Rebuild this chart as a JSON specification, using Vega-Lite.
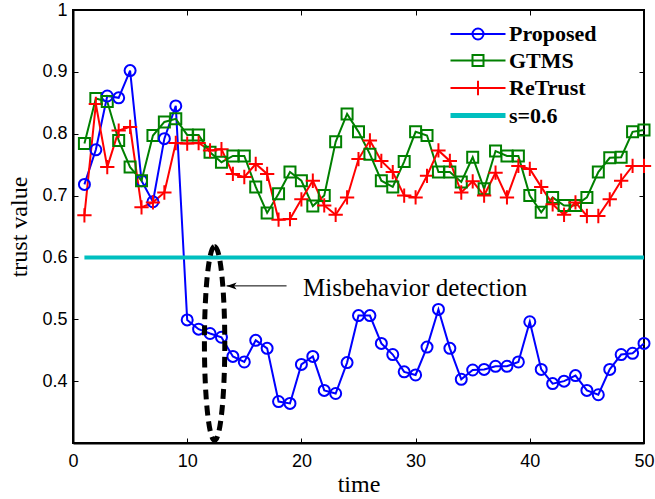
{
  "$schema": "https://vega.github.io/schema/vega-lite/v6.json",
  "width": 571,
  "height": 433,
  "autosize": {"type": "none"},
  "padding": {"left": 73, "top": 10, "right": 11, "bottom": 56},
  "background": "white",
  "config": {
    "view": {"stroke": "black", "strokeWidth": 2},
    "axis": {
      "domainColor": "black", "domainWidth": 2, "tickColor": "black", "tickWidth": 1, "tickSize": -5,
      "labelColor": "black", "labelFont": "Liberation Sans", "labelFontSize": 18,
      "titleFont": "Liberation Serif", "titleFontSize": 24, "titleFontWeight": "normal", "titleColor": "black",
      "grid": false
    },
    "axisTop": {"labels": false, "domain": false},
    "axisRight": {"labels": false, "domain": false}
  },
  "datasets": {
    "trust": [
      {"t":1,"Proposed":0.718,"GTMS":0.784,"ReTrust":0.668},
      {"t":2,"Proposed":0.774,"GTMS":0.857,"ReTrust":0.848},
      {"t":3,"Proposed":0.861,"GTMS":0.852,"ReTrust":0.746},
      {"t":4,"Proposed":0.858,"GTMS":0.789,"ReTrust":0.805},
      {"t":5,"Proposed":0.902,"GTMS":0.746,"ReTrust":0.811},
      {"t":6,"Proposed":0.724,"GTMS":0.724,"ReTrust":0.681},
      {"t":7,"Proposed":0.690,"GTMS":0.797,"ReTrust":0.689},
      {"t":8,"Proposed":0.792,"GTMS":0.819,"ReTrust":0.705},
      {"t":9,"Proposed":0.845,"GTMS":0.824,"ReTrust":0.785},
      {"t":10,"Proposed":0.499,"GTMS":0.798,"ReTrust":0.784},
      {"t":11,"Proposed":0.484,"GTMS":0.798,"ReTrust":0.785},
      {"t":12,"Proposed":0.477,"GTMS":0.770,"ReTrust":0.773},
      {"t":13,"Proposed":0.471,"GTMS":0.754,"ReTrust":0.775},
      {"t":14,"Proposed":0.440,"GTMS":0.764,"ReTrust":0.735},
      {"t":15,"Proposed":0.431,"GTMS":0.764,"ReTrust":0.730},
      {"t":16,"Proposed":0.466,"GTMS":0.714,"ReTrust":0.751},
      {"t":17,"Proposed":0.453,"GTMS":0.672,"ReTrust":0.735},
      {"t":18,"Proposed":0.367,"GTMS":0.703,"ReTrust":0.661},
      {"t":19,"Proposed":0.364,"GTMS":0.738,"ReTrust":0.662},
      {"t":20,"Proposed":0.427,"GTMS":0.724,"ReTrust":0.694},
      {"t":21,"Proposed":0.440,"GTMS":0.683,"ReTrust":0.724},
      {"t":22,"Proposed":0.385,"GTMS":0.700,"ReTrust":0.684},
      {"t":23,"Proposed":0.380,"GTMS":0.787,"ReTrust":0.669},
      {"t":24,"Proposed":0.430,"GTMS":0.832,"ReTrust":0.697},
      {"t":25,"Proposed":0.506,"GTMS":0.803,"ReTrust":0.759},
      {"t":26,"Proposed":0.506,"GTMS":0.767,"ReTrust":0.789},
      {"t":27,"Proposed":0.461,"GTMS":0.724,"ReTrust":0.756},
      {"t":28,"Proposed":0.443,"GTMS":0.714,"ReTrust":0.738},
      {"t":29,"Proposed":0.415,"GTMS":0.755,"ReTrust":0.700},
      {"t":30,"Proposed":0.410,"GTMS":0.803,"ReTrust":0.697},
      {"t":31,"Proposed":0.455,"GTMS":0.797,"ReTrust":0.732},
      {"t":32,"Proposed":0.516,"GTMS":0.738,"ReTrust":0.773},
      {"t":33,"Proposed":0.453,"GTMS":0.738,"ReTrust":0.756},
      {"t":34,"Proposed":0.403,"GTMS":0.722,"ReTrust":0.705},
      {"t":35,"Proposed":0.418,"GTMS":0.762,"ReTrust":0.723},
      {"t":36,"Proposed":0.419,"GTMS":0.711,"ReTrust":0.700},
      {"t":37,"Proposed":0.424,"GTMS":0.772,"ReTrust":0.737},
      {"t":38,"Proposed":0.424,"GTMS":0.764,"ReTrust":0.697},
      {"t":39,"Proposed":0.431,"GTMS":0.764,"ReTrust":0.748},
      {"t":40,"Proposed":0.496,"GTMS":0.700,"ReTrust":0.743},
      {"t":41,"Proposed":0.419,"GTMS":0.673,"ReTrust":0.714},
      {"t":42,"Proposed":0.396,"GTMS":0.697,"ReTrust":0.686},
      {"t":43,"Proposed":0.400,"GTMS":0.684,"ReTrust":0.669},
      {"t":44,"Proposed":0.409,"GTMS":0.684,"ReTrust":0.689},
      {"t":45,"Proposed":0.385,"GTMS":0.697,"ReTrust":0.667},
      {"t":46,"Proposed":0.378,"GTMS":0.738,"ReTrust":0.667},
      {"t":47,"Proposed":0.419,"GTMS":0.761,"ReTrust":0.694},
      {"t":48,"Proposed":0.443,"GTMS":0.762,"ReTrust":0.724},
      {"t":49,"Proposed":0.445,"GTMS":0.803,"ReTrust":0.748},
      {"t":50,"Proposed":0.461,"GTMS":0.806,"ReTrust":0.748}
    ],
    "thr": [
      {"t":1,"series":"s=0.6","value":0.6},
      {"t":50,"series":"s=0.6","value":0.6}
    ],
    "ellipse": [{"t":12.4,"value":0.461}],
    "arrow": [{"t":13.45,"t2":18.7,"value":0.554}],
    "note": [{"t":20.15,"value":0.537,"label":"Misbehavior detection"}]
  },
  "layer": [
    {
      "data": {"name": "trust"},
      "transform": [{"fold": ["Proposed","GTMS","ReTrust"], "as": ["series","value"]}],
      "mark": {"type": "line", "strokeWidth": 2},
      "encoding": {
        "x": {"field": "t", "type": "quantitative", "scale": {"domain": [0,50], "nice": false},
              "axis": {"orient": "bottom", "values": [0,10,20,30,40,50], "title": "time", "labelPadding": 14, "titlePadding": 2, "labelFlush": false}},
        "y": {"field": "value", "type": "quantitative", "scale": {"domain": [0.3,1], "nice": false, "zero": false},
              "axis": {"orient": "left", "values": [0.4,0.5,0.6,0.7,0.8,0.9,1], "format": ".1~f", "title": "trust value", "labelPadding": 11, "titlePadding": 10}},
        "color": {"field": "series", "type": "nominal",
          "scale": {"domain": ["Proposed","GTMS","ReTrust","s=0.6"], "range": ["#0000FF","#008000","#FF0000","#00BFBF"]},
          "legend": {
            "orient": "none", "legendX": 394, "legendY": 13, "title": null,
            "labelFont": "Liberation Serif", "labelFontWeight": "bold", "labelFontSize": 22, "labelColor": "black",
            "symbolSize": 121, "labelOffset": 20, "rowPadding": 4.5,
            "encode": {
              "symbols": {"update": {
                "shape": {"signal": "datum.value === 'Proposed' ? 'M -5 0 L 5 0 M 1 0 A 1 1 0 1 1 -1 0 A 1 1 0 1 1 1 0' : datum.value === 'GTMS' ? 'M -5 0 L 5 0 M -1 -1 L 1 -1 L 1 1 L -1 1 Z' : datum.value === 'ReTrust' ? 'M -5 0 L 5 0 M 0 -1.3 L 0 1.3' : 'M -5 0 L 5 0'"},
                "strokeWidth": {"signal": "datum.value === 's=0.6' ? 5 : 2"},
                "fill": {"value": "transparent"},
                "stroke": {"scale": "color", "field": "value"},
                "opacity": {"value": 1}
              }}
            }
          }}
      }
    },
    {
      "data": {"name": "trust"},
      "transform": [{"fold": ["Proposed","GTMS","ReTrust"], "as": ["series","value"]}],
      "mark": {"type": "point", "filled": false, "strokeWidth": 2, "size": 121, "opacity": 1},
      "encoding": {
        "x": {"field": "t", "type": "quantitative", "axis": null},
        "y": {"field": "value", "type": "quantitative", "axis": null},
        "color": {"field": "series", "type": "nominal"},
        "shape": {"field": "series", "type": "nominal",
          "scale": {"domain": ["Proposed","GTMS","ReTrust"], "range": ["M 1 0 A 1 1 0 1 1 -1 0 A 1 1 0 1 1 1 0 Z", "M -1 -1 L 1 -1 L 1 1 L -1 1 Z", "M -1.3 0 L 1.3 0 M 0 -1.3 L 0 1.3"]},
          "legend": null}
      }
    },
    {
      "data": {"name": "thr"},
      "mark": {"type": "line", "strokeWidth": 4},
      "encoding": {
        "x": {"field": "t", "type": "quantitative", "axis": null},
        "y": {"field": "value", "type": "quantitative", "axis": null},
        "color": {"field": "series", "type": "nominal"}
      }
    },
    {
      "data": {"name": "ellipse"},
      "mark": {"type": "point", "filled": false, "shape": "M 0 -1 A 0.105 1 0 1 1 0 1 A 0.105 1 0 1 1 0 -1 Z", "size": 37636, "stroke": "black", "strokeWidth": 5, "strokeDash": [10, 6], "opacity": 1, "clip": true},
      "encoding": {
        "x": {"field": "t", "type": "quantitative", "axis": null},
        "y": {"field": "value", "type": "quantitative", "axis": null}
      }
    },
    {
      "data": {"name": "arrow"},
      "mark": {"type": "rule", "color": "black", "strokeWidth": 1},
      "encoding": {
        "x": {"field": "t", "type": "quantitative", "axis": null},
        "x2": {"field": "t2"},
        "y": {"field": "value", "type": "quantitative", "axis": null}
      }
    },
    {
      "data": {"name": "arrow"},
      "mark": {"type": "point", "filled": true, "shape": "M 0 0 L 2 -0.7 L 1.5 0 L 2 0.7 Z", "size": 100, "color": "black", "opacity": 1},
      "encoding": {
        "x": {"field": "t", "type": "quantitative", "axis": null},
        "y": {"field": "value", "type": "quantitative", "axis": null}
      }
    },
    {
      "data": {"name": "note"},
      "mark": {"type": "text", "align": "left", "baseline": "alphabetic", "font": "Liberation Serif", "fontSize": 25, "color": "black"},
      "encoding": {
        "x": {"field": "t", "type": "quantitative", "axis": null},
        "y": {"field": "value", "type": "quantitative", "axis": null},
        "text": {"field": "label"}
      }
    },
    {
      "data": {"name": "thr"},
      "mark": {"type": "point", "opacity": 0},
      "encoding": {
        "x": {"field": "t", "type": "quantitative", "axis": {"orient": "top", "values": [0,10,20,30,40,50], "labels": false, "title": null, "domain": false}},
        "y": {"field": "value", "type": "quantitative", "axis": {"orient": "right", "values": [0.4,0.5,0.6,0.7,0.8,0.9,1], "labels": false, "title": null, "domain": false}}
      }
    }
  ]
}
